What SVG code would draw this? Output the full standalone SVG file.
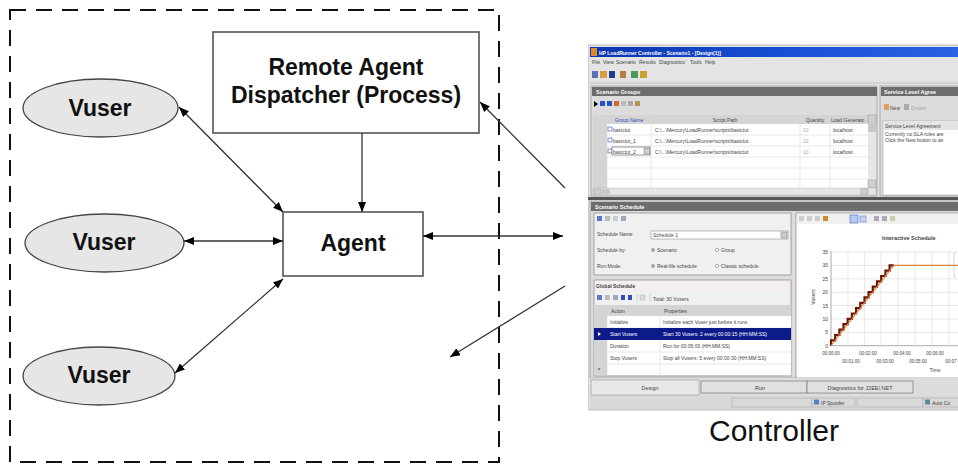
<svg xmlns="http://www.w3.org/2000/svg" width="958" height="466" viewBox="0 0 958 466">
<style>
.lbl{font-family:"Liberation Sans",Arial,sans-serif;font-weight:bold;font-size:23px;fill:#111;text-anchor:middle}
.node{fill:#fff;stroke:#555;stroke-width:1.6}
.vu{fill:#e6e6e6;stroke:#444;stroke-width:1.3}
.con{fill:none;stroke:#333;stroke-width:1.3}
.st{font-family:"Liberation Sans",Arial,sans-serif;font-size:5px;fill:#444}
.sb{font-family:"Liberation Sans",Arial,sans-serif;font-size:5.5px;font-weight:bold;fill:#fff}
.hd{fill:#6d6d6d}
.gl{stroke:#d8d8d8;stroke-width:0.6}
.w{fill:#fff}
.g{fill:#aaa}
</style>
<defs>
<marker id="ah" viewBox="0 0 10 10" refX="10" refY="5" markerWidth="10" markerHeight="10" markerUnits="userSpaceOnUse" orient="auto-start-reverse">
<path d="M0,1 L10,5 L0,9 Z" fill="#000"/>
</marker>
<linearGradient id="tb" x1="0" y1="0" x2="1" y2="0">
<stop offset="0" stop-color="#0a36b0"/><stop offset="0.6" stop-color="#1c52d8"/><stop offset="1" stop-color="#2a62e0"/>
</linearGradient>
<clipPath id="shot"><rect x="588" y="44" width="370" height="367"/></clipPath>
</defs>
<rect width="958" height="466" fill="#fff"/>
<g id="machine">
<rect x="10" y="10" width="489" height="452" fill="none" stroke="#111" stroke-width="2" stroke-dasharray="16 10"/>
</g>
<g id="dispatcher">
<rect class="node" x="213" y="32" width="266" height="101"/>
<text class="lbl" x="346" y="75">Remote Agent</text>
<text class="lbl" x="346" y="103">Dispatcher (Process)</text>
</g>
<g id="agent">
<rect class="node" x="283" y="212" width="140" height="64"/>
<text class="lbl" x="353" y="251">Agent</text>
</g>
<g id="vuser1">
<ellipse class="vu" cx="100.5" cy="108" rx="77.5" ry="29"/>
<text class="lbl" x="100" y="116">Vuser</text>
</g>
<g id="vuser2">
<ellipse class="vu" cx="104.5" cy="243" rx="79.5" ry="29"/>
<text class="lbl" x="104" y="250">Vuser</text>
</g>
<g id="vuser3">
<ellipse class="vu" cx="99" cy="376" rx="76" ry="29"/>
<text class="lbl" x="99" y="383">Vuser</text>
</g>
<g id="connectors">
<path class="con" d="M179,107 L283,212" marker-start="url(#ah)" marker-end="url(#ah)"/>
<path class="con" d="M184,241 L283,241" marker-start="url(#ah)" marker-end="url(#ah)"/>
<path class="con" d="M175,373 L283,279" marker-start="url(#ah)" marker-end="url(#ah)"/>
<path class="con" d="M362,133 L362,212" marker-end="url(#ah)"/>
<path class="con" d="M565,188 L480,102" marker-end="url(#ah)"/>
<path class="con" d="M423,236 L563,236" marker-start="url(#ah)" marker-end="url(#ah)"/>
<path class="con" d="M565,286 L450,357" marker-end="url(#ah)"/>
</g>
<g id="controller">
<g clip-path="url(#shot)">
<rect x="588" y="45" width="372" height="365" fill="#e4e4e4" stroke="#aaa" stroke-width="0.8"/>
<rect x="590" y="47" width="370" height="10" fill="url(#tb)"/>
<rect x="591" y="48" width="6" height="8" fill="#e08a2a"/>
<text class="sb" x="599" y="54.5" style="font-size:5px">HP LoadRunner Controller - Scenario1 - [Design(1)]</text>
<text class="st" x="592" y="64">File</text><text class="st" x="603" y="64">View</text><text class="st" x="616" y="64">Scenario</text><text class="st" x="639" y="64">Results</text><text class="st" x="659" y="64">Diagnostics</text><text class="st" x="690" y="64">Tools</text><text class="st" x="705" y="64">Help</text>
<rect x="592" y="71" width="6" height="7" fill="#5a6fb5"/><rect x="600" y="71" width="7" height="7" fill="#d8a040"/><rect x="609" y="71" width="6" height="7" fill="#223a90"/><rect x="620" y="71" width="6" height="7" fill="#b08040"/><rect x="631" y="71" width="7" height="7" fill="#4a9a5a"/><rect x="640" y="71" width="7" height="7" fill="#c8a030"/>
<line x1="590" y1="83" x2="958" y2="83" stroke="#bbb" stroke-width="0.8"/>
<!-- Scenario Groups -->
<rect x="591" y="86" width="286" height="110" fill="#dcdcdc" stroke="#888" stroke-width="0.6"/>
<rect class="hd" x="592" y="87" width="285" height="9"/>
<text class="sb" x="596" y="94">Scenario Groups</text>
<path d="M594,101 L598,104 L594,107 Z" fill="#000"/>
<rect x="600" y="101" width="5" height="5" fill="#2a50c8"/><rect x="607" y="101" width="5" height="5" fill="#2a50c8"/><rect x="614" y="101" width="5" height="5" fill="#d06a2a"/><rect x="621" y="101" width="5" height="5" fill="#bbb"/><rect x="628" y="101" width="5" height="5" fill="#aaa"/><rect x="635" y="101" width="5" height="5" fill="#c09050"/>
<rect x="593" y="115" width="282" height="73" fill="#fff"/>
<rect x="593" y="115" width="275" height="9" fill="#d4d4d4"/>
<rect x="593" y="115" width="14" height="73" fill="#d4d4d4"/>
<g class="gl">
<line x1="593" y1="135" x2="868" y2="135"/><line x1="593" y1="146" x2="868" y2="146"/><line x1="593" y1="157" x2="868" y2="157"/><line x1="593" y1="168" x2="868" y2="168"/><line x1="593" y1="179" x2="868" y2="179"/>
<line x1="607" y1="115" x2="607" y2="188"/><line x1="651" y1="115" x2="651" y2="188"/><line x1="800" y1="115" x2="800" y2="188"/><line x1="830" y1="115" x2="830" y2="188"/>
</g>
<text class="st" x="629" y="122" text-anchor="middle" style="fill:#3050c0">Group Name</text>
<text class="st" x="725" y="122" text-anchor="middle">Script Path</text>
<text class="st" x="815" y="122" text-anchor="middle">Quantity</text>
<text class="st" x="831" y="122">Load Generato</text>
<rect x="868" y="115" width="8" height="73" fill="#e6e6e6"/>
<rect x="868" y="115" width="8" height="8" fill="#d0d0d0" stroke="#888" stroke-width="0.4"/>
<rect x="868" y="124" width="8" height="8" fill="#c8c8c8"/>
<rect x="868" y="180" width="8" height="8" fill="#d0d0d0" stroke="#888" stroke-width="0.4"/>
<rect x="608" y="127" width="4" height="4" fill="#fff" stroke="#3050c0" stroke-width="0.6"/>
<rect x="608" y="138" width="4" height="4" fill="#fff" stroke="#3050c0" stroke-width="0.6"/>
<rect x="608" y="149" width="4" height="4" fill="#fff" stroke="#3050c0" stroke-width="0.6"/>
<text class="st" x="613" y="131.5">basictut</text><text class="st" x="655" y="131.5">C:\...\Mercury\LoadRunner\scripts\basictut</text><text class="st g" x="803" y="131.5">10</text><text class="st" x="833" y="131.5">localhost</text>
<text class="st" x="613" y="142.5">basictut_1</text><text class="st" x="655" y="142.5">C:\...\Mercury\LoadRunner\scripts\basictut</text><text class="st g" x="803" y="142.5">10</text><text class="st" x="833" y="142.5">localhost</text>
<rect x="612" y="147" width="38" height="8" fill="#fff" stroke="#555" stroke-width="0.6"/><rect x="644" y="148" width="6" height="6" fill="#ccc" stroke="#666" stroke-width="0.4"/>
<text class="st" x="613" y="153.5">basictut_2</text><text class="st" x="655" y="153.5">C:\...\Mercury\LoadRunner\scripts\basictut</text><text class="st g" x="803" y="153.5">10</text><text class="st" x="833" y="153.5">localhost</text>
<rect x="593" y="188" width="283" height="7" fill="#e6e6e6" stroke="#aaa" stroke-width="0.4"/>
<rect x="594" y="189" width="7" height="5" fill="#d0d0d0" stroke="#888" stroke-width="0.4"/><rect x="602" y="189" width="8" height="5" fill="#c8c8c8"/><rect x="861" y="189" width="7" height="5" fill="#d0d0d0" stroke="#888" stroke-width="0.4"/>
<!-- SLA -->
<rect x="880" y="86" width="80" height="110" fill="#dcdcdc" stroke="#888" stroke-width="0.6"/>
<rect class="hd" x="881" y="87" width="79" height="9"/>
<text class="sb" x="884" y="94">Service Level Agree</text>
<rect x="884" y="104" width="5" height="6" fill="#e0a060"/>
<text class="st" x="890" y="109.5">New</text>
<rect x="904" y="104" width="5" height="6" fill="#aaa"/>
<text class="st g" x="911" y="109.5">Details</text>
<rect x="883" y="121" width="77" height="74" fill="#fff" stroke="#999" stroke-width="0.5"/>
<rect x="883" y="122" width="77" height="8" fill="#e4e4e4"/>
<text class="st" x="885" y="128">Service Level Agreement</text>
<text class="st" x="885" y="136">Currently no SLA rules are</text>
<text class="st" x="885" y="142">Click the New button to de</text>
<rect x="588" y="197" width="372" height="3" fill="#555"/>
<!-- Scenario Schedule -->
<rect x="590" y="201" width="370" height="177" fill="#dcdcdc" stroke="#888" stroke-width="0.6"/>
<rect class="hd" x="591" y="202" width="369" height="9"/>
<text class="sb" x="595" y="209">Scenario Schedule</text>
<rect x="594" y="213" width="197" height="62" fill="#f0f0f0" stroke="#777" stroke-width="0.6"/>
<rect x="597" y="216" width="5" height="5" fill="#5a7ac8"/><rect x="605" y="216" width="5" height="5" fill="#bbb"/><rect x="613" y="216" width="5" height="5" fill="#ccc"/><rect x="621" y="216" width="5" height="5" fill="#9ab"/>
<text class="st" x="597" y="236">Schedule Name</text>
<rect x="651" y="231" width="137" height="8" fill="#fff" stroke="#777" stroke-width="0.5"/>
<text class="st" x="653" y="237">Schedule 1</text>
<rect x="781" y="232" width="6" height="6" fill="#ccc" stroke="#666" stroke-width="0.4"/>
<text class="st" x="597" y="252">Schedule by:</text>
<circle cx="653" cy="250" r="1.6" fill="#fff" stroke="#666" stroke-width="0.5"/><circle cx="653" cy="250" r="0.7" fill="#222"/>
<text class="st" x="657" y="252">Scenario</text>
<circle cx="717" cy="250" r="1.6" fill="#fff" stroke="#666" stroke-width="0.5"/>
<text class="st" x="721" y="252">Group</text>
<text class="st" x="597" y="268">Run Mode:</text>
<circle cx="653" cy="266" r="1.6" fill="#fff" stroke="#666" stroke-width="0.5"/><circle cx="653" cy="266" r="0.7" fill="#222"/>
<text class="st" x="657" y="268">Real-life schedule</text>
<circle cx="717" cy="266" r="1.6" fill="#fff" stroke="#666" stroke-width="0.5"/>
<text class="st" x="721" y="268">Classic schedule</text>
<!-- Global Schedule -->
<rect x="594" y="280" width="197" height="96" fill="#f0f0f0" stroke="#777" stroke-width="0.6"/>
<rect x="595" y="281" width="195" height="9" fill="#f4eef0"/>
<text class="st" x="596" y="288" font-weight="bold">Global Schedule</text>
<rect x="597" y="295" width="5" height="5" fill="#5a7ac8"/><rect x="605" y="295" width="5" height="5" fill="#bbb"/><rect x="613" y="295" width="5" height="5" fill="#9ab"/><rect x="621" y="295" width="4" height="5" fill="#3050c0"/><rect x="628" y="295" width="4" height="5" fill="#3050c0"/>
<line x1="637" y1="294" x2="637" y2="302" stroke="#aaa" stroke-width="0.5"/>
<rect x="640" y="295" width="5" height="5" fill="#ddd" stroke="#aaa" stroke-width="0.4"/>
<line x1="650" y1="294" x2="650" y2="302" stroke="#aaa" stroke-width="0.5"/>
<text class="st" x="653" y="301">Total: 30 Vusers</text>
<rect x="594" y="305" width="197" height="70" fill="#fff"/>
<rect x="594" y="305" width="197" height="11" fill="#d4d4d4"/>
<rect x="594" y="305" width="13" height="70" fill="#d4d4d4"/>
<g class="gl">
<line x1="594" y1="328" x2="791" y2="328"/><line x1="594" y1="352" x2="791" y2="352"/><line x1="594" y1="364" x2="791" y2="364"/>
<line x1="607" y1="305" x2="607" y2="375"/><line x1="660" y1="305" x2="660" y2="375"/>
</g>
<text class="st" x="611" y="313">Action</text>
<text class="st" x="664" y="313">Properties</text>
<text class="st" x="610" y="324">Initialize</text>
<text class="st" x="663" y="324">Initialize each Vuser just before it runs</text>
<rect x="594" y="328" width="197" height="12" fill="#0c1a8a"/>
<path d="M598,332 L601,334 L598,336 Z" fill="#fff"/>
<text class="st w" x="610" y="336">Start Vusers</text>
<text class="st w" x="663" y="336">Start 30 Vusers: 2 every 00:00:15 (HH:MM:SS)</text>
<text class="st" x="610" y="348">Duration</text>
<text class="st" x="663" y="348">Run for 00:05:00 (HH:MM:SS)</text>
<text class="st" x="610" y="360">Stop Vusers</text>
<text class="st" x="663" y="360">Stop all Vusers: 5 every 00:00:30 (HH:MM:SS)</text>
<text class="st" x="598" y="372" font-weight="bold">*</text>
<!-- Chart -->
<rect x="796" y="213" width="164" height="165" fill="#fff" stroke="#777" stroke-width="0.6"/>
<rect x="797" y="214" width="163" height="10" fill="#f0f0f0"/>
<rect x="799" y="216" width="5" height="5" fill="#ccc"/><rect x="807" y="216" width="5" height="5" fill="#ccc"/><rect x="815" y="216" width="5" height="5" fill="#ccc"/><rect x="823" y="216" width="5" height="5" fill="#d08a30"/>
<rect x="850" y="215" width="8" height="8" fill="#b8c8ee" stroke="#3050c0" stroke-width="0.5"/><rect x="860" y="216" width="6" height="6" fill="#c8d4ee" stroke="#3050c0" stroke-width="0.4"/>
<rect x="874" y="216" width="5" height="5" fill="#aab"/><rect x="882" y="216" width="5" height="5" fill="#aab"/><rect x="890" y="216" width="5" height="5" fill="#cca"/>
<text class="st" x="882" y="240" font-weight="bold" style="font-size:5.5px">Interactive Schedule</text>
<g class="gl">
<line x1="848" y1="252" x2="848" y2="346"/><line x1="864.5" y1="252" x2="864.5" y2="346"/><line x1="881" y1="252" x2="881" y2="346"/><line x1="898" y1="252" x2="898" y2="346"/><line x1="915" y1="252" x2="915" y2="346"/><line x1="932" y1="252" x2="932" y2="346"/><line x1="949" y1="252" x2="949" y2="346"/>
<line x1="831" y1="252" x2="960" y2="252"/><line x1="831" y1="265.4" x2="960" y2="265.4"/><line x1="831" y1="278.8" x2="960" y2="278.8"/><line x1="831" y1="292.2" x2="960" y2="292.2"/><line x1="831" y1="305.6" x2="960" y2="305.6"/><line x1="831" y1="319" x2="960" y2="319"/><line x1="831" y1="332.3" x2="960" y2="332.3"/>
</g>
<line x1="831" y1="251" x2="831" y2="346" stroke="#888" stroke-width="0.7"/>
<line x1="831" y1="345.7" x2="960" y2="345.7" stroke="#888" stroke-width="0.7"/>
<g class="st" text-anchor="end">
<text x="828" y="254">35</text><text x="828" y="267.4">30</text><text x="828" y="280.8">25</text><text x="828" y="294.2">20</text><text x="828" y="307.6">15</text><text x="828" y="321">10</text><text x="828" y="334.3">5</text><text x="828" y="347.7">0</text>
</g>
<text class="st" x="815" y="297" text-anchor="middle" transform="rotate(-90 815 297)">Vusers</text>
<g class="st" text-anchor="middle" style="font-size:4.5px">
<text x="831" y="355">00:00:00</text><text x="868" y="355">00:02:00</text><text x="902" y="355">00:04:00</text><text x="935" y="355">00:06:00</text>
<text x="851" y="363">00:01:00</text><text x="885" y="363">00:03:00</text><text x="918" y="363">00:05:00</text><text x="951" y="363">00:07</text>
</g>
<text class="st" x="935" y="372" text-anchor="middle">Time</text>
<path d="M831,345.7 V340.3 H835.2 V335 H839.4 V329.6 H843.5 V324.2 H847.7 V318.9 H851.9 V313.5 H856.1 V308.2 H860.3 V302.8 H864.5 V297.4 H868.6 V292.1 H872.8 V286.7 H877 V281.3 H881.2 V276 H885.4 V270.7 H889.6 V265.4 H893.8" fill="none" stroke="#6b1500" stroke-width="2.2"/>
<path d="M831,345.7 L893.8,265.4 H960" fill="none" stroke="#d8883a" stroke-width="1.1"/>
<path d="M956,253 H954 V277 H956" fill="none" stroke="#aaa" stroke-width="0.5"/>
<!-- tabs -->
<rect x="590" y="378" width="370" height="18" fill="#dcdcdc"/>
<rect x="591" y="380" width="108" height="15" fill="#e8e8e8" stroke="#888" stroke-width="0.5"/>
<text class="st" x="650" y="390" text-anchor="middle" style="font-size:5.5px">Design</text>
<rect x="701" y="381" width="106" height="12" fill="#e0e0e0" stroke="#666" stroke-width="0.6"/>
<text class="st" x="760" y="389.5" text-anchor="middle" style="font-size:5.5px">Run</text>
<rect x="807" y="381" width="106" height="12" fill="#e0e0e0" stroke="#666" stroke-width="0.6"/>
<text class="st" x="860" y="389.5" text-anchor="middle" style="font-size:5.5px">Diagnostics for J2EE/.NET</text>
<rect x="590" y="396" width="370" height="13" fill="#d8d8d8"/>
<rect x="732" y="398" width="80" height="9" fill="#d8d8d8" stroke="#999" stroke-width="0.4"/>
<rect x="812" y="398" width="43" height="9" fill="#d8d8d8" stroke="#999" stroke-width="0.4"/>
<rect x="814" y="399.5" width="5" height="5" fill="#5a7ac8"/>
<text class="st" x="821" y="404.5">IP Spoofer</text>
<rect x="857" y="398" width="66" height="9" fill="#d8d8d8" stroke="#999" stroke-width="0.4"/>
<rect x="923" y="398" width="40" height="9" fill="#d8d8d8" stroke="#999" stroke-width="0.4"/>
<rect x="925" y="399.5" width="5" height="5" fill="#5a8a9a"/>
<text class="st" x="932" y="404.5">Auto Co</text>
</g>
<text x="774" y="441" font-family="'Liberation Sans',Arial,sans-serif" font-size="30px" fill="#111" text-anchor="middle">Controller</text>
</g>
</svg>
